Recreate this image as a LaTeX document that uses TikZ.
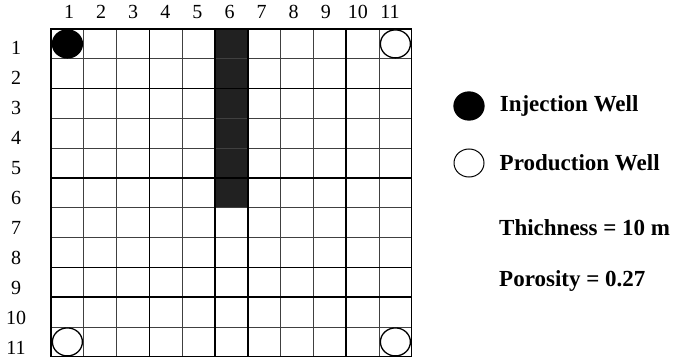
\documentclass[tikz,border=0pt]{standalone}
\usepackage{fontspec}
\setmainfont{Liberation Serif}
\usetikzlibrary{positioning, shapes.geometric}
\tikzset{
  thinline/.style={black!75, line width=0.8pt},
  thickline/.style={black, line width=1.6pt},
  well/.style={ellipse, draw=black, line width=1.3pt, minimum width=30pt, minimum height=28pt, inner sep=0pt},
  injwell/.style={well, fill=black},
  prodwell/.style={well, fill=white},
  gridlabel/.style={font=\fontsize{20}{20}\selectfont, inner sep=0pt},
  legtext/.style={font=\fontsize{23}{23}\selectfont\bfseries, inner sep=0pt, anchor=west},
}
\newcommand{\cw}{32.8}
\newcommand{\ch}{29.8}

\begin{document}
\begin{tikzpicture}[x=1pt, y=-1pt]
  \useasboundingbox (0,0) rectangle (675,361);
  % barrier in column 6, rows 1-6
  \fill[black!87] (51+5*\cw, 29) rectangle (51+6*\cw, 29+6*\ch);
  % grid
  \foreach \i in {0,...,11} {
    \draw[thinline] (51+\i*\cw, 29) -- (51+\i*\cw, 29+11*\ch);
    \draw[thinline] (51, 29+\i*\ch) -- (51+11*\cw, 29+\i*\ch);
  }
  \foreach \i in {0,3,5,9} \draw[thickline] (51+\i*\cw, 29) -- (51+\i*\cw, 29+11*\ch);
  \draw[thickline] (51+6*\cw, 29) -- (51+6*\cw, 29+11*\ch);
  \foreach \j in {0,2,5,8,9} \draw[thickline] (51, 29+\j*\ch) -- (51+11*\cw, 29+\j*\ch);
  \draw[black, line width=1.2pt] (51, 29) rectangle (51+11*\cw, 29+11*\ch);
  % column and row numbers
  \foreach \i in {1,...,11} {
    \node[gridlabel] (col\i) at ({69+32.1*(\i-1)}, 12) {\i};
    \node[gridlabel] (row\i) at (16, {48+30*(\i-1)}) {\i};
  }
  % wells
  \node[injwell] (inj) at (51+0.5*\cw, 29+0.5*\ch) {};
  \node[prodwell] (prodNE) at (51+10.5*\cw, 29+0.5*\ch) {};
  \node[prodwell] (prodSW) at (51+0.5*\cw, 29+10.5*\ch) {};
  \node[prodwell] (prodSE) at (51+10.5*\cw, 29+10.5*\ch) {};
  % legend
  \node[injwell] (leginj) at (469, 106) {};
  \node[legtext, right=15pt of leginj] (leginjtext) {Injection Well};
  \node[prodwell, line width=1pt] (legprod) at (469, 163) {};
  \node[legtext, right=15pt of legprod] (legprodtext) {Production Well};
  \node[legtext] (legthick) at (499, 228) {Thichness = 10 m};
  \node[legtext] (legporo) at (499, 281) {Porosity = 0.27};
\end{tikzpicture}
\end{document}
